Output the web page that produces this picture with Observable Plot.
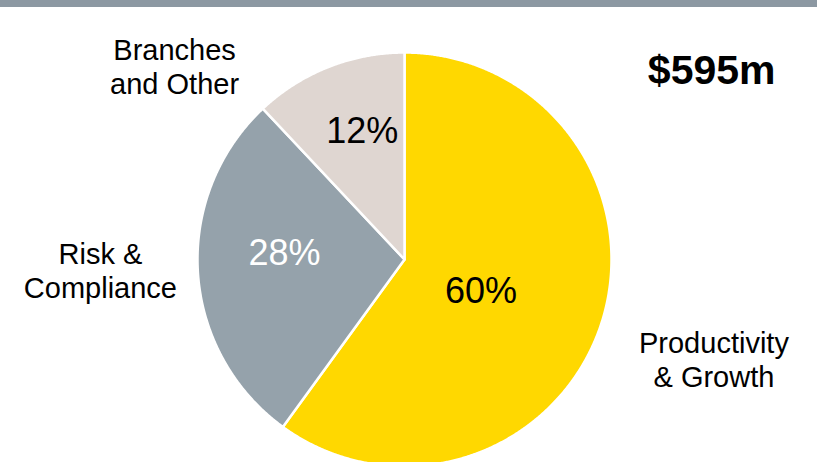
<!DOCTYPE html>
<html>
<head>
<meta charset="utf-8">
<script src="https://cdn.jsdelivr.net/npm/d3@7"></script>
<script src="https://cdn.jsdelivr.net/npm/@observablehq/plot@0.6"></script>
<style>
  html, body { margin: 0; padding: 0; background: #fff; }
  #wrap { position: relative; width: 817px; height: 462px; overflow: hidden; }
  #bar { position: absolute; left: 0; top: 0; width: 817px; height: 7px; background: #8c98a2; }
  svg { display: block; overflow: hidden; }
</style>
</head>
<body>
<div id="wrap"><div id="chart"></div><div id="bar"></div></div>
<script>
// ---- data ----
const categories = ["Productivity & Growth", "Risk & Compliance", "Branches and Other"];
const shares = [60, 28, 12];
const sliceLabels = ["Productivity\n& Growth", "Risk &\nCompliance", "Branches\nand Other"];
const totalLabel = "$595m";

// ---- styles / layout ----
const sliceColors = ["#ffd800", "#95a2ab", "#dfd6d1"];
const pctColors = ["#000000", "#ffffff", "#000000"];
const pctLayout = [{r: 0.40, shift: 4.6}, {r: 0.58, shift: 6.5}, {r: 0.65, shift: 3.3}];
const outLayout = [{r: 1.57, shift: -0.2}, {r: 1.47, shift: 1.6}, {r: 1.45, shift: -28.4}];
const W = 817, H = 462, CX = 404, CY = 259, R = 207;

const rows = categories.map((c, i) => ({cat: c, share: shares[i], i}));
const arcs = d3.pie().sort(null).value(d => d.share)(rows);

const pts = [];
arcs.forEach(a => {
  pts.push({cat: a.data.cat, i: a.data.i, x: 0, y: 0});
  const n = Math.max(2, Math.ceil((a.endAngle - a.startAngle) / 0.005));
  for (let k = 0; k <= n; k++) {
    const t = a.startAngle + (a.endAngle - a.startAngle) * k / n;
    pts.push({cat: a.data.cat, i: a.data.i, x: Math.sin(t), y: Math.cos(t)});
  }
});

const deg = Math.PI / 180;
const pctPts = arcs.map(a => {
  const L = pctLayout[a.data.i];
  const t = (a.startAngle + a.endAngle) / 2 + L.shift * deg;
  return {text: `${a.data.share}%`, i: a.data.i, x: L.r * Math.sin(t), y: L.r * Math.cos(t)};
});
const outPts = arcs.map(a => {
  const L = outLayout[a.data.i];
  const t = (a.startAngle + a.endAngle) / 2 + L.shift * deg;
  return {text: sliceLabels[a.data.i], x: L.r * Math.sin(t), y: L.r * Math.cos(t)};
});

const font = "'Liberation Sans', Arial, sans-serif";
const chart = Plot.plot({
  width: W, height: H,
  margin: 0,
  style: {fontFamily: font, background: "#fff"},
  x: {domain: [-CX / R, (W - CX) / R], range: [0, W], axis: null},
  y: {domain: [-(H - CY) / R, CY / R], range: [H, 0], axis: null},
  color: {type: "identity"},
  marks: [
    Plot.line(pts, {x: "x", y: "y", z: "cat", curve: "linear-closed",
      fill: d => sliceColors[d.i], stroke: "#ffffff", strokeWidth: 2.5, strokeLinejoin: "round"}),
    Plot.text(pctPts, {x: "x", y: "y", text: "text", fill: d => pctColors[d.i],
      fontSize: 36, lineAnchor: "middle"}),
    Plot.text(outPts, {x: "x", y: "y", text: "text", fill: "#000", fontSize: 29,
      lineHeight: 1.17, lineAnchor: "middle", textAnchor: "middle"}),
    Plot.text([totalLabel], {frameAnchor: "top-right", text: d => d, dx: -42, dy: 70,
      textAnchor: "end", lineAnchor: "middle", fontSize: 41, fontWeight: "bold", fill: "#000"})
  ]
});
document.getElementById("chart").appendChild(chart);
</script>
</body>
</html>
